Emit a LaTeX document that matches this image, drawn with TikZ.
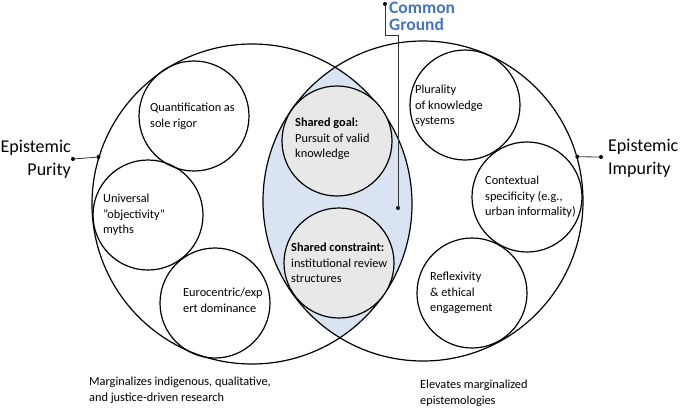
\documentclass[tikz,border=0pt]{standalone}
\usepackage{fontspec}
\setmainfont{Carlito}
\definecolor{lensblue}{RGB}{218,227,242}
\definecolor{sharedgray}{RGB}{232,232,232}
\definecolor{cgblue}{RGB}{70,116,186}
\begin{document}
\begin{tikzpicture}[x=1pt,y=-1pt,
  bigcirc/.style={circle,draw,line width=1.2pt,minimum size=320pt,inner sep=0pt},
  smallcirc/.style={circle,draw,line width=1.2pt,minimum size=110pt,inner sep=0pt},
  sharedcirc/.style={smallcirc,fill=sharedgray},
  smalltxt/.style={anchor=west,align=left,inner sep=0pt,font=\fontsize{12.3}{15.6}\selectfont},
  bigtxt/.style={inner sep=0pt,font=\fontsize{18}{23}\selectfont},
  conn/.style={draw=black!80,line width=0.8pt},
  dotmark/.style={circle,fill=black,inner sep=0pt,minimum size=4pt}]
\useasboundingbox (0,0) rectangle (680,408);
% lens fill
\begin{scope}
  \clip (252,204) circle (160);
  \fill[lensblue] (423,201) circle (160);
\end{scope}
% big circles
\node[bigcirc] (L) at (252,204) {};
\node[bigcirc] (R) at (423,201) {};
% small circles
\node[smallcirc] (c1) at (194,116) {};
\node[smallcirc] (c2) at (148,215) {};
\node[smallcirc] (c3) at (215,303) {};
\node[sharedcirc] (c4) at (337,141) {};
\node[sharedcirc] (c5) at (339,263) {};
\node[smallcirc] (c6) at (465,105) {};
\node[smallcirc] (c7) at (527,197) {};
\node[smallcirc] (c8) at (472,293) {};
% texts
\node[smalltxt] (t1) at (150,116.5) {Quantification as\\sole rigor};
\node[smalltxt] (t2) at (103,215) {Universal\\"objectivity"\\myths};
\node[smalltxt] (t3) at (183,300) {Eurocentric/exp\\ert dominance};
\node[smalltxt] (t4) at (295,139) {\textbf{Shared goal:}\\Pursuit of valid\\knowledge};
\node[smalltxt] (t5) at (291,263) {\textbf{Shared constraint:}\\institutional review\\structures};
\node[smalltxt] (t6) at (415,106) {Plurality\\of knowledge\\systems};
\node[smalltxt] (t7) at (485,197) {Contextual\\specificity (e.g.,\\urban informality)};
\node[smalltxt] (t8) at (430,293) {Reflexivity\\\& ethical\\engagement};
\node[smalltxt] (b1) at (89,390.5) {Marginalizes indigenous, qualitative,\\and justice-driven research};
\node[smalltxt] (b2) at (420,393.5) {Elevates marginalized\\epistemologies};
% side labels
\node[bigtxt,anchor=east,align=right] (lp) at (71,159.5) {Epistemic\\Purity};
\node[bigtxt,anchor=west,align=left] (rp) at (608,158.5) {Epistemic\\Impurity};
\node[inner sep=0pt,anchor=west,align=left,text=cgblue,font=\fontsize{17.5}{16.5}\selectfont\bfseries] (cg) at (389,16.5) {Common\\Ground};
% connectors
\node[dotmark] (dl) at (73,159) {};
\node[dotmark] (dl2) at (L.163.7) {};
\draw[conn] (dl) -- (dl2);
\node[dotmark] (dr) at (601,157) {};
\node[dotmark] (dr2) at (R.16) {};
\draw[conn] (dr2) -- (dr);
\node[dotmark] (dc) at (385,4) {};
\coordinate (k1) at (385,35);
\coordinate (k2) at (398,35);
\node[dotmark] (dc2) at (398,208) {};
\draw[conn] (dc.center) -- (k1) -- (k2) -- (dc2.center);
\end{tikzpicture}
\end{document}
